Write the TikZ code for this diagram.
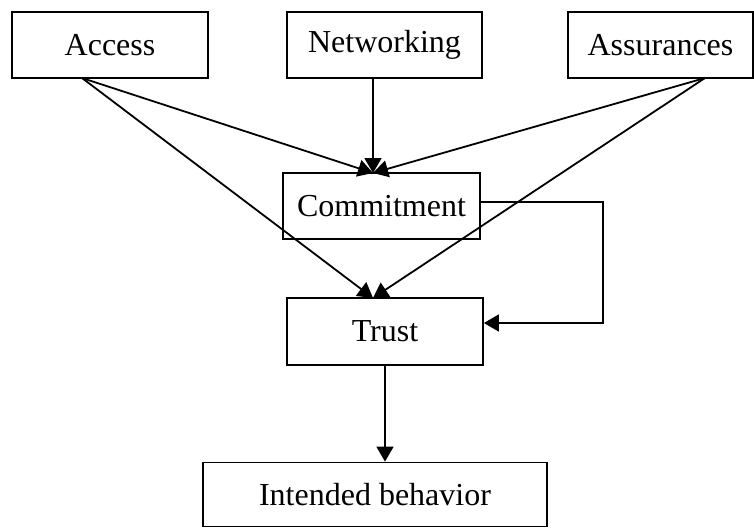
\documentclass[tikz,border=0pt]{standalone}
\usepackage{fontspec}
\setmainfont{Liberation Serif}
\usetikzlibrary{arrows.meta}

\begin{document}
\begin{tikzpicture}[x=1pt,y=-1pt,line width=1.8pt,>={Triangle[length=15pt,width=17pt]}]
    \tikzstyle{factor}=[draw,rectangle,inner sep=0pt,minimum height=66pt,font=\fontsize{32}{38}\selectfont]
    \useasboundingbox (0,0) rectangle (754,527);

    % Draw the three antecedent boxes
    \node[factor,minimum width=196pt] (acc) at (110,45) {Access};
    \node[factor,minimum width=195pt] (net) at (384.5,45) {Networking};
    \node[factor,minimum width=185pt] (ass) at (660.5,45) {Assurances};

    % Mediators and outcome
    \node[factor,minimum width=197pt] (com) at (381.5,206) {Commitment};
    \node[factor,minimum width=196pt,minimum height=67pt] (tru) at (385,331.5) {Trust};
    \node[factor,minimum width=344pt,minimum height=64pt] (int) at (375,494.5) {Intended behavior};

    % Points where the lines leave and meet the boxes
    \coordinate (acc-out) at (82,78);
    \coordinate (net-out) at (373,78);
    \coordinate (ass-out) at (705,78);
    \coordinate (com-in) at (373,173);
    \coordinate (tru-in) at (373,298);

    % Every antecedent points at commitment
    \foreach \source in {acc-out,net-out,ass-out}
        \draw[->] (\source) -- (com-in);

    % Access and assurances also point at trust
    \foreach \source in {acc-out,ass-out}
        \draw[->] (\source) -- (tru-in);

    % Commitment loops round to trust
    \draw[->] ([yshift=4pt]com.east) -- (603,202) |- ([yshift=8.5pt]tru.east);

    % Trust to intended behavior
    \draw[->] (tru.south) -- (tru.south |- int.north);
\end{tikzpicture}
\end{document}
